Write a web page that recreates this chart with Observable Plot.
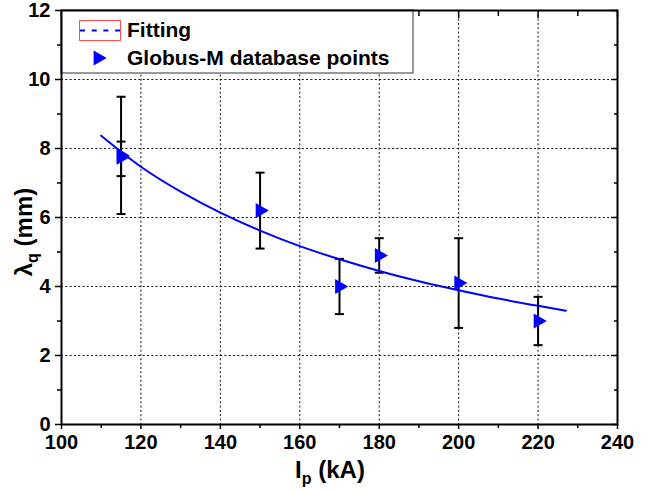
<!DOCTYPE html>
<html><head><meta charset="utf-8">
<script src="https://cdn.jsdelivr.net/npm/d3@7"></script>
<script src="https://cdn.jsdelivr.net/npm/@observablehq/plot@0.6"></script>
<style>body{margin:0;background:#fff;} #chart svg{display:block;}</style>
</head><body><div id="chart"></div>
<script>
// ---- data ----
const ipValues     = [115, 115, 150, 170, 180, 200, 220];
const lambdaValues = [7.75, 7.8, 6.2, 4.0, 4.9, 4.1, 3.0];
const errLow       = [7.2, 6.1, 5.1, 3.2, 4.4, 2.8, 2.3];
const errHigh      = [8.2, 9.5, 7.3, 4.8, 5.4, 5.4, 3.7];
const fitIp        = [110, 120, 130, 140, 150, 160, 170, 180, 190, 200, 210, 220, 227];
const fitLambda    = [8.37, 7.47, 6.75, 6.14, 5.62, 5.17, 4.79, 4.45, 4.15, 3.89, 3.65, 3.44, 3.30];
const xTicks = [100, 120, 140, 160, 180, 200, 220, 240];
const xMinor = [110, 130, 150, 170, 190, 210, 230];
const yTicks = [0, 2, 4, 6, 8, 10, 12];
const yMinor = [1, 3, 5, 7, 9, 11];
const legendLabels = ["Fitting", "Globus-M database points"];
const xTitle = ["I", "p", " (kA)"];
const yTitle = ["λ", "q", " (mm)"];

const points = ipValues.map((x, i) => ({x, y: lambdaValues[i], lo: errLow[i], hi: errHigh[i]}));
const fit = fitIp.map((x, i) => ({x, y: fitLambda[i]}));

const BLUE = "#0000ff";
const FONT = "'Liberation Sans', Arial, sans-serif";
const capSymbol = {draw(ctx, size) { const r = Math.sqrt(size / Math.PI); ctx.moveTo(-r, 0); ctx.lineTo(r, 0); }};
const blank = () => "";
const tickText = {fontSize: 20, fontWeight: "bold", fontFamily: FONT};

const chart = Plot.plot({
  width: 665, height: 490,
  marginLeft: 61, marginRight: 48, marginTop: 10, marginBottom: 66,
  x: {domain: [100, 240]},
  y: {domain: [0, 12]},
  style: {fontFamily: FONT, fontWeight: "bold", fontSize: "20px", color: "black", background: "white"},
  marks: [
    Plot.gridX(xTicks, {stroke: "#111", strokeOpacity: 1, strokeDasharray: "2,2.3"}),
    Plot.gridY(yTicks, {stroke: "#111", strokeOpacity: 1, strokeDasharray: "2,2.3"}),
    Plot.ruleX(points, {x: "x", y1: "lo", y2: "hi", stroke: "black", strokeWidth: 2}),
    Plot.dot(points, {x: "x", y: "lo", symbol: capSymbol, r: 4.5, stroke: "black", strokeWidth: 2}),
    Plot.dot(points, {x: "x", y: "hi", symbol: capSymbol, r: 4.5, stroke: "black", strokeWidth: 2}),
    Plot.line(fit, {x: "x", y: "y", stroke: BLUE, strokeWidth: 2, curve: "natural"}),
    Plot.dot(points, {x: "x", y: "y", symbol: "triangle", rotate: 90, r: 5.6, fill: BLUE, stroke: "none"}),
    Plot.axisX(xTicks, {anchor: "bottom", tickSize: 5, tickPadding: 5, strokeWidth: 1.5, label: null, ...tickText}),
    Plot.axisX(xMinor, {anchor: "bottom", tickSize: 4, tickFormat: blank, strokeWidth: 1.5, label: null}),
    Plot.axisX(xTicks, {anchor: "top", tickSize: -7, tickFormat: blank, strokeWidth: 1.5, label: null}),
    Plot.axisX(xMinor, {anchor: "top", tickSize: -5, tickFormat: blank, strokeWidth: 1.5, label: null}),
    Plot.axisY(yTicks, {anchor: "left", tickSize: 6, tickPadding: 5, strokeWidth: 1.5, label: null, ...tickText}),
    Plot.axisY(yMinor, {anchor: "left", tickSize: 4, tickFormat: blank, strokeWidth: 1.5, label: null}),
    Plot.axisY(yTicks, {anchor: "right", tickSize: -7, tickFormat: blank, strokeWidth: 1.5, label: null}),
    Plot.axisY(yMinor, {anchor: "right", tickSize: -4, tickFormat: blank, strokeWidth: 1.5, label: null}),
    Plot.frame({stroke: "black", strokeWidth: 2})
  ]
});
document.getElementById("chart").appendChild(chart);

const svg = d3.select(chart);
const frameNode = chart.querySelector('[aria-label="frame"]');

// legend (inserted beneath the frame)
const lg = d3.create("svg:g").attr("font-family", FONT).attr("font-weight", "bold")
  .attr("font-size", 21).attr("text-anchor", "start");
lg.append("rect").attr("x", 61).attr("y", 10).attr("width", 352).attr("height", 63)
  .attr("fill", "white").attr("stroke", "#555").attr("stroke-width", 1.2);
lg.append("rect").attr("x", 79.5).attr("y", 20.5).attr("width", 41).attr("height", 20)
  .attr("fill", "none").attr("stroke", "#ff5050").attr("stroke-width", 1);
lg.append("line").attr("x1", 80).attr("x2", 120).attr("y1", 30.5).attr("y2", 30.5)
  .attr("stroke", BLUE).attr("stroke-width", 2).attr("stroke-dasharray", "5,6.7");
lg.append("text").attr("x", 127).attr("y", 37).attr("text-anchor", "start").attr("fill", "black").text(legendLabels[0]);
lg.append("path").attr("d", d3.symbol(d3.symbolTriangle, Math.PI * 5.6 * 5.6)())
  .attr("transform", "translate(98,58) rotate(90)").attr("fill", BLUE);
lg.append("text").attr("x", 127).attr("y", 65).attr("text-anchor", "start").attr("fill", "black").text(legendLabels[1]);
chart.insertBefore(lg.node(), frameNode);

// axis titles
const xt = svg.append("text").attr("x", 330).attr("y", 478).attr("text-anchor", "middle")
  .attr("font-family", FONT).attr("font-weight", "bold").attr("font-size", 24).attr("fill", "black");
xt.append("tspan").text(xTitle[0]);
xt.append("tspan").attr("font-size", 16).attr("dy", 6).text(xTitle[1]);
xt.append("tspan").attr("dy", -6).text(xTitle[2]);

const yt = svg.append("text").attr("transform", "translate(32,232) rotate(-90)").attr("text-anchor", "middle")
  .attr("font-family", FONT).attr("font-weight", "bold").attr("font-size", 24).attr("fill", "black");
yt.append("tspan").text(yTitle[0]);
yt.append("tspan").attr("font-size", 16).attr("dy", 6).text(yTitle[1]);
yt.append("tspan").attr("dy", -6).text(yTitle[2]);
</script>
</body></html>
